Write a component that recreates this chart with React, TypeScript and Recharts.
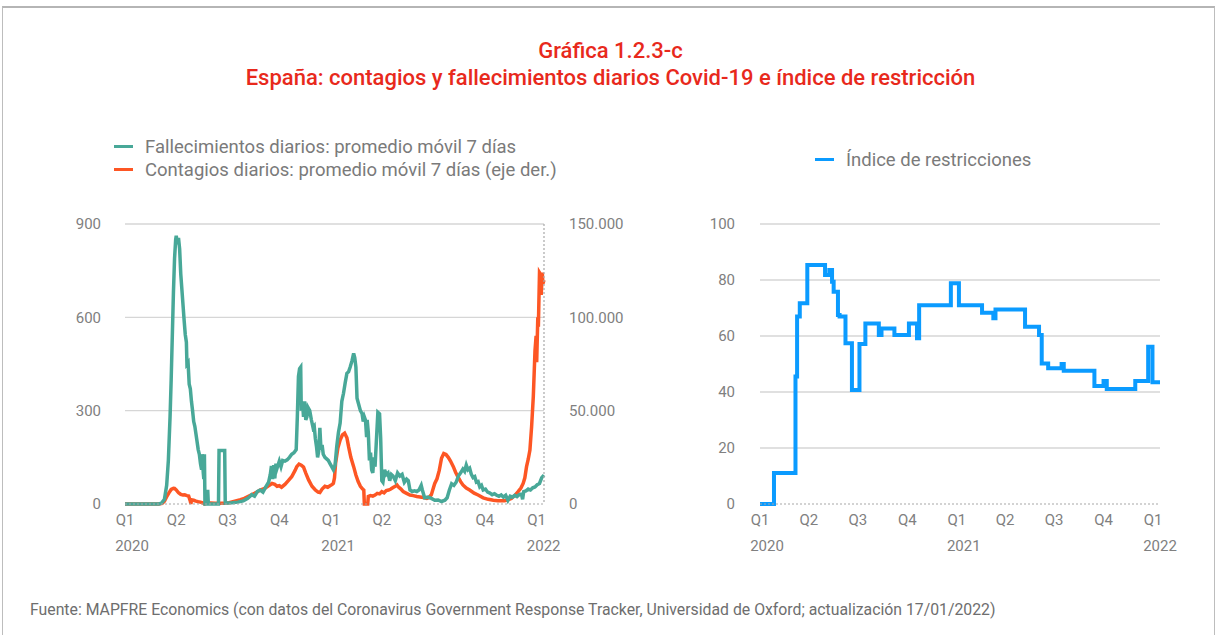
import React from "react";
import { LineChart, Line, XAxis, YAxis, CartesianGrid } from "recharts";

// x axis: days since 1 Jan 2020, ticks at the start of each quarter
const quarterDays = [0, 91, 182, 274, 366, 456, 547, 639, 731];
const quarterLabels = ["Q1", "Q2", "Q3", "Q4", "Q1", "Q2", "Q3", "Q4", "Q1"];
const yearLabels = ["2020", "", "", "", "2021", "", "", "", "2022"];
const lastDay = 744;

// Fallecimientos diarios (eje izq.)
const deathDays = [
  0, 60, 65, 70, 74, 77, 80, 82, 84, 86, 88, 90, 91, 93, 95, 97, 99, 101, 103, 105, 107, 109, 110, 112, 114, 116,
  118, 120, 122, 124, 126, 128, 130, 132, 134, 136, 137, 139, 140, 141, 142, 144, 145, 147, 148, 166, 167, 177,
  178, 190, 200, 210, 218, 225, 230, 235, 240, 245, 250, 255, 258, 260, 262, 264, 266, 268, 270, 274, 277, 280,
  284, 288, 292, 296, 300, 304, 306, 308, 310, 312, 313, 315, 317, 319, 321, 323, 325, 328, 331, 334, 336, 338,
  340, 342, 344, 346, 348, 350, 352, 355, 358, 361, 364, 367, 370, 373, 376, 379, 382, 385, 388, 391, 394, 397,
  400, 403, 406, 408, 410, 412, 415, 418, 421, 423, 425, 427, 429, 430, 432, 434, 436, 438, 440, 442, 444, 446,
  449, 452, 454, 456, 458, 461, 464, 467, 470, 473, 476, 480, 484, 488, 492, 496, 500, 503, 506, 510, 514, 518,
  522, 526, 528, 532, 538, 544, 550, 556, 562, 568, 572, 576, 580, 584, 588, 592, 596, 600, 603, 606, 609, 612,
  615, 618, 621, 624, 627, 630, 633, 636, 640, 644, 648, 652, 656, 660, 664, 668, 672, 676, 680, 684, 688, 692,
  696, 700, 704, 706, 708, 712, 716, 720, 724, 728, 732, 736, 740, 744,
];
const deathValues = [
  0, 0, 3, 15, 60, 140, 280, 400, 540, 680, 790, 850, 862, 835, 855, 820, 740, 690, 640, 590, 545, 520, 450, 455,
  385, 370, 330, 300, 265, 250, 225, 200, 175, 160, 130, 110, 160, 100, 80, 160, 0, 0, 40, 40, 0, 0, 172, 172, 3,
  4, 6, 10, 18, 30, 25, 40, 45, 38, 55, 70, 95, 122, 80, 125, 82, 130, 115, 138, 120, 140, 138, 142, 150, 160,
  165, 175, 280, 410, 435, 440, 300, 330, 280, 330, 270, 280, 310, 300, 270, 245, 250, 210, 185, 150, 170, 245,
  175, 190, 160, 150, 145, 140, 130, 120, 110, 125, 185, 230, 260, 330, 356, 390, 420, 425, 441, 460, 484, 470,
  440, 340, 320, 300, 290, 265, 280, 270, 215, 270, 230, 140, 165, 110, 100, 150, 120, 190, 295, 290, 210, 75, 70,
  110, 95, 100, 75, 95, 90, 75, 100, 90, 95, 70, 80, 75, 45, 40, 42, 40, 45, 60, 45, 20, 22, 18, 12, 13, 8, 12, 20,
  45, 65, 60, 70, 90, 100, 112, 105, 125, 110, 115, 95, 85, 88, 70, 72, 55, 60, 45, 48, 38, 35, 30, 33, 28, 25, 29,
  22, 28, 12, 25, 22, 28, 24, 30, 32, 15, 40, 42, 48, 45, 52, 55, 62, 66, 85, 93,
];

// Contagios diarios (eje der.)
const caseDays = [
  0, 60, 66, 70, 74, 78, 82, 86, 88, 91, 95, 99, 103, 106, 110, 113, 116, 117, 118, 122, 126, 130, 134, 138, 141,
  145, 160, 175, 185, 195, 205, 212, 220, 230, 240, 248, 255, 261, 266, 270, 274, 278, 284, 290, 296, 302, 305,
  309, 313, 317, 321, 326, 332, 338, 343, 346, 350, 355, 360, 364, 368, 370, 372, 374, 378, 382, 386, 390, 394,
  397, 401, 406, 410, 414, 418, 422, 424, 425, 431, 432, 436, 440, 444, 448, 452, 456, 460, 464, 468, 472, 476,
  480, 483, 486, 490, 494, 500, 506, 512, 518, 524, 530, 536, 540, 544, 547, 550, 554, 558, 562, 566, 570, 574,
  578, 583, 587, 591, 596, 600, 606, 612, 620, 627, 636, 645, 654, 662, 674, 680, 686, 692, 698, 703, 707, 710,
  713, 716, 719, 722, 725, 728, 730, 731, 733, 734, 736, 738, 739, 741, 742, 744,
];
const caseValues = [
  0, 0, 300, 1500, 3900, 6000, 7800, 8400, 8300, 7500, 6000, 5200, 4800, 4900, 4500, 4300, 1500, 0, 2200, 2000,
  1500, 1200, 1000, 600, 0, 600, 450, 400, 700, 1500, 2300, 3000, 4300, 5700, 7500, 8400, 9800, 11000, 10500,
  9500, 9800, 9000, 10500, 12500, 14600, 18000, 20000, 21400, 20800, 19800, 16500, 12900, 9500, 7500, 6300, 6100,
  8000, 9500, 9000, 9800, 10500, 11100, 14000, 22000, 30000, 34300, 37000, 37900, 35500, 30700, 25000, 20000,
  15500, 12000, 9500, 8000, 7500, 0, 0, 4000, 4500, 4200, 4800, 5700, 5400, 6600, 6000, 7200, 7500, 8000, 8800,
  9500, 10200, 9000, 8000, 6600, 5700, 4800, 4500, 4000, 3800, 3500, 3000, 3500, 5000, 8000, 11000, 13500, 18000,
  24500, 27000, 26500, 25000, 23000, 20000, 17000, 14600, 12000, 10200, 8500, 7500, 5800, 4800, 3300, 2500, 2000,
  1800, 1800, 2200, 3000, 4500, 6600, 8500, 11000, 14000, 20000, 24000, 28900, 41400, 57500, 82000, 90000, 76000,
  100000, 95000, 124000, 123000, 112000, 124000, 118000, 120000,
];

// Índice de restricciones (escalones)
const restrDays = [
  0, 26, 66, 69, 74, 88, 121, 129, 134, 137, 145, 148, 159, 171, 185, 196, 221, 226, 250, 277, 292, 296, 355, 370,
  413, 434, 438, 493, 519, 524, 536, 561, 565, 622, 639, 645, 698, 722, 730, 744,
];
const restrValues = [
  0, 11.1, 45.5, 67, 71.7, 85.4, 81.8, 83.6, 79.4, 75.8, 67.5, 67, 57.4, 40.7, 57.1, 64.5, 60.4, 62.7, 60.4, 64.5,
  59.2, 71, 78.8, 71, 68.3, 66.3, 69.5, 63.3, 60.4, 50.2, 48.5, 50, 47.6, 42.1, 43.9, 41.1, 43.9, 56.2, 43.5, 43.5,
];

const TEAL = "#48a898";
const ORANGE = "#fd5624";
const BLUE = "#0b9bff";
const RED = "#e8291c";
const GREY = "#808080";

// merge both series of the left chart on one day axis
const allDays = Array.from(new Set([...deathDays, ...caseDays])).sort((a, b) => a - b);
const leftData = allDays.map((day) => {
  const di = deathDays.indexOf(day);
  const ci = caseDays.indexOf(day);
  return {
    day,
    deaths: di >= 0 ? deathValues[di] : null,
    cases: ci >= 0 ? caseValues[ci] : null,
  };
});
const rightData = restrDays.map((day, i) => ({ day, value: restrValues[i] }));

function fmtMiles(v: number) {
  return String(v).replace(/\B(?=(\d{3})+(?!\d))/g, ".");
}

const tickStyle = { fontSize: 15, fill: GREY, fontFamily: "Roboto, sans-serif" };

function QuarterTick({ x, y, payload }: any) {
  const i = quarterDays.indexOf(payload.value);
  return (
    <g>
      <text x={x} y={y + 12.5} textAnchor="middle" {...tickStyle}>
        {quarterLabels[i]}
      </text>
      {yearLabels[i] && (
        <text x={x + 7} y={y + 38.5} textAnchor="middle" {...tickStyle}>
          {yearLabels[i]}
        </text>
      )}
    </g>
  );
}

const dotted = { stroke: "#a8a8a8", strokeDasharray: "2 2", strokeWidth: 1.2 };

function LegendItem({ color, text }: { color: string; text: string }) {
  return (
    <div style={{ display: "flex", alignItems: "center", height: 23 }}>
      <span style={{ display: "inline-block", width: 19, height: 3.5, background: color, marginRight: 12 }} />
      <span>{text}</span>
    </div>
  );
}

export default function App() {
  return (
    <div
      style={{
        position: "relative",
        width: 1221,
        height: 635,
        overflow: "hidden",
        background: "#fff",
        fontFamily: "Roboto, sans-serif",
      }}
    >
      <style>{"body{margin:0}"}</style>
      <div
        style={{
          position: "absolute",
          left: 2,
          top: 6,
          width: 1211,
          height: 700,
          border: "1px solid #bdbdbd",
          borderTop: "2px solid #b5b5b5",
        }}
      />

      <div
        style={{
          position: "absolute",
          top: 37,
          left: 0,
          width: 1221,
          textAlign: "center",
          color: RED,
          fontSize: 22,
          fontWeight: 500,
          lineHeight: "27px",
        }}
      >
        <div>Gráfica 1.2.3-c</div>
        <div>España: contagios y fallecimientos diarios Covid-19 e índice de restricción</div>
      </div>

      <div style={{ position: "absolute", left: 114, top: 135, fontSize: 18.5, color: "#7a7a7a" }}>
        <LegendItem color={TEAL} text="Fallecimientos diarios: promedio móvil 7 días" />
        <LegendItem color={ORANGE} text="Contagios diarios: promedio móvil 7 días (eje der.)" />
      </div>

      <div style={{ position: "absolute", left: 815, top: 148, fontSize: 18.5, color: "#7a7a7a" }}>
        <LegendItem color={BLUE} text="Índice de restricciones" />
      </div>

      <div style={{ position: "absolute", left: 0, top: 200 }}>
        <LineChart width={640} height={370} data={leftData} margin={{ top: 24, right: 0, bottom: 10, left: 0 }}>
          <CartesianGrid
            yAxisId="left"
            vertical={false}
            horizontalValues={[300, 600, 900]}
            stroke="#d6d6d6"
            strokeWidth={1.3}
          />
          <XAxis
            dataKey="day"
            type="number"
            domain={[0, lastDay]}
            ticks={quarterDays}
            interval={0}
            tick={<QuarterTick />}
            tickLine={false}
            axisLine={dotted}
            height={56}
          />
          <YAxis
            yAxisId="left"
            domain={[0, 900]}
            ticks={[0, 300, 600, 900]}
            width={125}
            axisLine={false}
            tickLine={false}
            tickMargin={18}
            tick={tickStyle}
          />
          <YAxis
            yAxisId="right"
            orientation="right"
            domain={[0, 150000]}
            ticks={[0, 50000, 100000, 150000]}
            tickFormatter={fmtMiles}
            width={96}
            axisLine={dotted}
            tickLine={false}
            tickMargin={19}
            tick={{ ...tickStyle, textAnchor: "start" }}
          />
          <Line
            yAxisId="right"
            dataKey="cases"
            type="linear"
            stroke={ORANGE}
            strokeWidth={3.5}
            dot={false}
            connectNulls
            isAnimationActive={false}
          />
          <Line
            yAxisId="left"
            dataKey="deaths"
            type="linear"
            stroke={TEAL}
            strokeWidth={3.5}
            dot={false}
            connectNulls
            isAnimationActive={false}
          />
        </LineChart>
      </div>

      <div style={{ position: "absolute", left: 640, top: 200 }}>
        <LineChart width={540} height={370} data={rightData} margin={{ top: 24, right: 20, bottom: 10, left: 0 }}>
          <CartesianGrid vertical={false} horizontalValues={[20, 40, 60, 80, 100]} stroke="#d6d6d6" strokeWidth={1.3} />
          <XAxis
            dataKey="day"
            type="number"
            domain={[0, lastDay]}
            ticks={quarterDays}
            interval={0}
            tick={<QuarterTick />}
            tickLine={false}
            axisLine={dotted}
            height={56}
          />
          <YAxis
            domain={[0, 100]}
            ticks={[0, 20, 40, 60, 80, 100]}
            width={120}
            axisLine={false}
            tickLine={false}
            tickMargin={19}
            tick={tickStyle}
          />
          <Line
            dataKey="value"
            type="stepAfter"
            stroke={BLUE}
            strokeWidth={4}
            dot={false}
            isAnimationActive={false}
          />
        </LineChart>
      </div>

      <div style={{ position: "absolute", left: 30, top: 600, fontSize: 15.8, color: "#6e6e6e" }}>
        Fuente: MAPFRE Economics (con datos del Coronavirus Government Response Tracker, Universidad de Oxford;
        actualización 17/01/2022)
      </div>
    </div>
  );
}
